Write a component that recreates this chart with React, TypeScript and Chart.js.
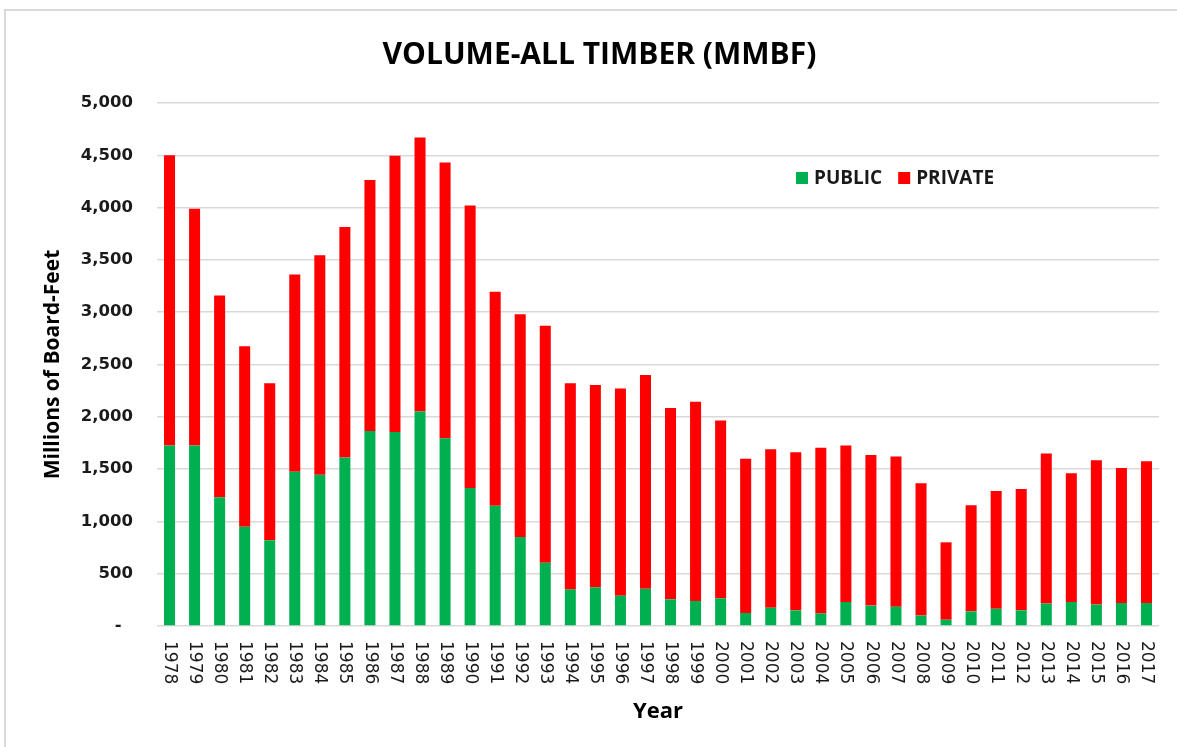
import React, { useEffect, useRef } from "react";
import { Chart, registerables } from "chart.js";

Chart.register(...registerables);

const years = [
  "1978", "1979", "1980", "1981", "1982", "1983", "1984", "1985", "1986", "1987",
  "1988", "1989", "1990", "1991", "1992", "1993", "1994", "1995", "1996", "1997",
  "1998", "1999", "2000", "2001", "2002", "2003", "2004", "2005", "2006", "2007",
  "2008", "2009", "2010", "2011", "2012", "2013", "2014", "2015", "2016", "2017",
];

const publicVolume = [
  1725, 1725, 1230, 950, 820, 1475, 1445, 1610, 1865, 1855,
  2050, 1795, 1320, 1150, 850, 605, 350, 370, 290, 355,
  255, 240, 265, 125, 175, 150, 120, 230, 195, 185,
  100, 60, 140, 165, 150, 215, 230, 205, 220, 220,
];

const privateVolume = [
  2775, 2265, 1930, 1725, 1500, 1885, 2100, 2205, 2400, 2640,
  2620, 2635, 2700, 2045, 2130, 2265, 1970, 1935, 1980, 2045,
  1830, 1905, 1700, 1475, 1515, 1510, 1585, 1495, 1440, 1435,
  1265, 740, 1015, 1125, 1160, 1435, 1230, 1380, 1290, 1355,
];

const seriesNames = ["PUBLIC", "PRIVATE"];
const seriesColors = ["#00b050", "#ff0000"];

const titleText = "VOLUME-ALL TIMBER (MMBF)";
const yTitle = "Millions of Board-Feet";
const xTitle = "Year";

const framePlugin = {
  id: "frame",
  beforeDraw(chart: any) {
    const { ctx, width, height } = chart;
    ctx.save();
    ctx.fillStyle = "#ffffff";
    ctx.fillRect(0, 0, width, height);
    ctx.strokeStyle = "#d9d9d9";
    ctx.lineWidth = 2;
    ctx.beginPath();
    ctx.moveTo(5, height);
    ctx.lineTo(5, 10);
    ctx.lineTo(width, 10);
    ctx.stroke();
    ctx.restore();
  },
};

const xLabelPlugin = {
  id: "xLabels",
  afterDraw(chart: any) {
    const { ctx, chartArea } = chart;
    const xs = chart.scales.x;
    ctx.save();
    ctx.font = "17px 'DejaVu Sans'";
    ctx.fillStyle = "#1a1a1a";
    ctx.textAlign = "left";
    ctx.textBaseline = "middle";
    years.forEach((lab, i) => {
      const x = xs.getPixelForValue(i);
      ctx.save();
      ctx.translate(x, chartArea.bottom + 15);
      ctx.rotate(Math.PI / 2);
      ctx.fillText(lab, 0, 0);
      ctx.restore();
    });
    ctx.restore();
  },
};

const legendPlugin = {
  id: "customLegend",
  afterDraw(chart: any) {
    const { ctx, chartArea } = chart;
    ctx.save();
    ctx.font = "bold 19px 'Open Sans'";
    ctx.textBaseline = "middle";
    ctx.textAlign = "left";
    let x = chartArea.left + 639;
    const y = chartArea.top + 75;
    seriesNames.forEach((name, i) => {
      ctx.fillStyle = seriesColors[i];
      ctx.fillRect(x, y - 6, 12, 12);
      ctx.fillStyle = "#1a1a1a";
      ctx.fillText(name, x + 18, y + 1);
      x += 18 + ctx.measureText(name).width + 16;
    });
    ctx.restore();
  },
};

export default function App() {
  const ref = useRef<HTMLCanvasElement | null>(null);

  useEffect(() => {
    document.body.style.margin = "0";
    if (!ref.current) return;
    const chart = new Chart(ref.current, {
      type: "bar",
      data: {
        labels: years,
        datasets: [
          {
            label: seriesNames[0],
            data: publicVolume,
            backgroundColor: seriesColors[0],
            barPercentage: 0.44,
            categoryPercentage: 1,
          },
          {
            label: seriesNames[1],
            data: privateVolume,
            backgroundColor: seriesColors[1],
            barPercentage: 0.44,
            categoryPercentage: 1,
          },
        ],
      },
      options: {
        responsive: false,
        animation: false,
        layout: { padding: { left: 40, right: 18, top: 0, bottom: 22 } },
        plugins: {
          legend: { display: false },
          tooltip: { enabled: false },
          title: {
            display: true,
            text: titleText,
            color: "#000000",
            font: { family: "'Open Sans'", size: 30, weight: "bold" },
            padding: { top: 37, bottom: 30 },
          },
        },
        scales: {
          x: {
            stacked: true,
            grid: { display: false },
            border: { display: false },
            ticks: { display: false },
            afterFit: (s: any) => {
              s.height = 99;
            },
            title: {
              display: true,
              text: xTitle,
              color: "#000000",
              font: { family: "'Open Sans'", size: 22, weight: "bold" },
              padding: { top: 0, bottom: 0 },
            },
          },
          y: {
            stacked: true,
            min: 0,
            max: 5000,
            border: { display: false },
            grid: { color: "#d9d9d9", lineWidth: 1.5, drawTicks: false },
            ticks: {
              stepSize: 500,
              padding: 24,
              color: "#1a1a1a",
              font: { family: "'DejaVu Sans'", size: 16.5, weight: "bold" },
              callback: (v: any) => (Number(v) === 0 ? "-  " : Number(v).toLocaleString("en-US")),
            },
            afterFit: (s: any) => {
              s.width = 117;
            },
            title: {
              display: true,
              text: yTitle,
              color: "#000000",
              font: { family: "'Open Sans'", size: 21, weight: "bold" },
              padding: { top: 0, bottom: 0 },
            },
          },
        },
      },
      plugins: [framePlugin, xLabelPlugin, legendPlugin],
    });
    return () => chart.destroy();
  }, []);

  return (
    <div style={{ width: 1177, height: 747 }}>
      <canvas ref={ref} width={1177} height={747} style={{ display: "block" }} />
    </div>
  );
}
